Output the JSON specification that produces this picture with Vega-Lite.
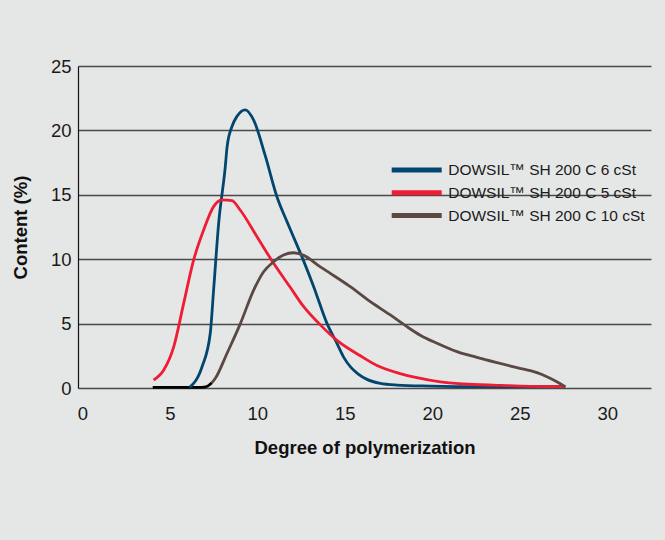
{
  "$schema": "https://vega.github.io/schema/vega-lite/v6.json",
  "width": 573,
  "height": 322,
  "autosize": {"type": "none"},
  "padding": {"left": 78, "top": 66, "right": 14, "bottom": 152},
  "background": "#e5e7e6",
  "config": {
    "view": {"stroke": null},
    "font": "Liberation Sans",
    "axis": {"labelFont": "Liberation Sans", "titleFont": "Liberation Sans"},
    "legend": {"labelFont": "Liberation Sans"}
  },
  "data": {
    "values": [
      {"s": "base", "x": 4.02, "y": 0.05},
      {"s": "base", "x": 6.8, "y": 0.05},
      {"s": "base", "x": 7.15, "y": 0.14},
      {"s": "base", "x": 7.4, "y": 0.4},

      {"s": "DOWSIL™ SH 200 C 6 cSt", "x": 6.13, "y": 0.05},
      {"s": "DOWSIL™ SH 200 C 6 cSt", "x": 6.84, "y": 1.65},
      {"s": "DOWSIL™ SH 200 C 6 cSt", "x": 7.31, "y": 4.25},
      {"s": "DOWSIL™ SH 200 C 6 cSt", "x": 7.5, "y": 7.6},
      {"s": "DOWSIL™ SH 200 C 6 cSt", "x": 7.79, "y": 12.8},
      {"s": "DOWSIL™ SH 200 C 6 cSt", "x": 8.17, "y": 17.2},
      {"s": "DOWSIL™ SH 200 C 6 cSt", "x": 8.27, "y": 18.7},
      {"s": "DOWSIL™ SH 200 C 6 cSt", "x": 8.55, "y": 20.3},
      {"s": "DOWSIL™ SH 200 C 6 cSt", "x": 8.84, "y": 21.1},
      {"s": "DOWSIL™ SH 200 C 6 cSt", "x": 9.31, "y": 21.6},
      {"s": "DOWSIL™ SH 200 C 6 cSt", "x": 9.79, "y": 20.8},
      {"s": "DOWSIL™ SH 200 C 6 cSt", "x": 10.46, "y": 18.0},
      {"s": "DOWSIL™ SH 200 C 6 cSt", "x": 11.12, "y": 14.85},
      {"s": "DOWSIL™ SH 200 C 6 cSt", "x": 11.7, "y": 12.9},
      {"s": "DOWSIL™ SH 200 C 6 cSt", "x": 12.17, "y": 11.4},
      {"s": "DOWSIL™ SH 200 C 6 cSt", "x": 12.65, "y": 9.85},
      {"s": "DOWSIL™ SH 200 C 6 cSt", "x": 13.22, "y": 7.87},
      {"s": "DOWSIL™ SH 200 C 6 cSt", "x": 13.98, "y": 5.02},
      {"s": "DOWSIL™ SH 200 C 6 cSt", "x": 14.55, "y": 3.47},
      {"s": "DOWSIL™ SH 200 C 6 cSt", "x": 14.93, "y": 2.4},
      {"s": "DOWSIL™ SH 200 C 6 cSt", "x": 15.35, "y": 1.6},
      {"s": "DOWSIL™ SH 200 C 6 cSt", "x": 15.75, "y": 1.1},
      {"s": "DOWSIL™ SH 200 C 6 cSt", "x": 16.27, "y": 0.67},
      {"s": "DOWSIL™ SH 200 C 6 cSt", "x": 17.03, "y": 0.36},
      {"s": "DOWSIL™ SH 200 C 6 cSt", "x": 17.98, "y": 0.23},
      {"s": "DOWSIL™ SH 200 C 6 cSt", "x": 19.89, "y": 0.15},
      {"s": "DOWSIL™ SH 200 C 6 cSt", "x": 22.7, "y": 0.1},
      {"s": "DOWSIL™ SH 200 C 6 cSt", "x": 27.6, "y": 0.1},

      {"s": "DOWSIL™ SH 200 C 5 cSt", "x": 4.07, "y": 0.62},
      {"s": "DOWSIL™ SH 200 C 5 cSt", "x": 4.65, "y": 1.4},
      {"s": "DOWSIL™ SH 200 C 5 cSt", "x": 5.22, "y": 3.2},
      {"s": "DOWSIL™ SH 200 C 5 cSt", "x": 5.79, "y": 6.57},
      {"s": "DOWSIL™ SH 200 C 5 cSt", "x": 6.36, "y": 9.94},
      {"s": "DOWSIL™ SH 200 C 5 cSt", "x": 6.93, "y": 12.27},
      {"s": "DOWSIL™ SH 200 C 5 cSt", "x": 7.5, "y": 14.08},
      {"s": "DOWSIL™ SH 200 C 5 cSt", "x": 7.98, "y": 14.6},
      {"s": "DOWSIL™ SH 200 C 5 cSt", "x": 8.55, "y": 14.55},
      {"s": "DOWSIL™ SH 200 C 5 cSt", "x": 9.03, "y": 13.8},
      {"s": "DOWSIL™ SH 200 C 5 cSt", "x": 9.98, "y": 11.75},
      {"s": "DOWSIL™ SH 200 C 5 cSt", "x": 10.93, "y": 9.68},
      {"s": "DOWSIL™ SH 200 C 5 cSt", "x": 11.89, "y": 7.8},
      {"s": "DOWSIL™ SH 200 C 5 cSt", "x": 12.65, "y": 6.31},
      {"s": "DOWSIL™ SH 200 C 5 cSt", "x": 13.6, "y": 4.9},
      {"s": "DOWSIL™ SH 200 C 5 cSt", "x": 14.55, "y": 3.7},
      {"s": "DOWSIL™ SH 200 C 5 cSt", "x": 15.89, "y": 2.5},
      {"s": "DOWSIL™ SH 200 C 5 cSt", "x": 16.84, "y": 1.75},
      {"s": "DOWSIL™ SH 200 C 5 cSt", "x": 17.98, "y": 1.19},
      {"s": "DOWSIL™ SH 200 C 5 cSt", "x": 19.12, "y": 0.8},
      {"s": "DOWSIL™ SH 200 C 5 cSt", "x": 20.46, "y": 0.47},
      {"s": "DOWSIL™ SH 200 C 5 cSt", "x": 21.79, "y": 0.31},
      {"s": "DOWSIL™ SH 200 C 5 cSt", "x": 23.7, "y": 0.21},
      {"s": "DOWSIL™ SH 200 C 5 cSt", "x": 25.6, "y": 0.13},
      {"s": "DOWSIL™ SH 200 C 5 cSt", "x": 27.6, "y": 0.1},

      {"s": "DOWSIL™ SH 200 C 10 cSt", "x": 7.4, "y": 0.4},
      {"s": "DOWSIL™ SH 200 C 10 cSt", "x": 7.6, "y": 0.75},
      {"s": "DOWSIL™ SH 200 C 10 cSt", "x": 8.27, "y": 2.7},
      {"s": "DOWSIL™ SH 200 C 10 cSt", "x": 9.03, "y": 5.0},
      {"s": "DOWSIL™ SH 200 C 10 cSt", "x": 9.79, "y": 7.6},
      {"s": "DOWSIL™ SH 200 C 10 cSt", "x": 10.36, "y": 9.03},
      {"s": "DOWSIL™ SH 200 C 10 cSt", "x": 10.93, "y": 9.8},
      {"s": "DOWSIL™ SH 200 C 10 cSt", "x": 11.5, "y": 10.33},
      {"s": "DOWSIL™ SH 200 C 10 cSt", "x": 12.07, "y": 10.5},
      {"s": "DOWSIL™ SH 200 C 10 cSt", "x": 12.65, "y": 10.3},
      {"s": "DOWSIL™ SH 200 C 10 cSt", "x": 13.6, "y": 9.4},
      {"s": "DOWSIL™ SH 200 C 10 cSt", "x": 14.17, "y": 8.9},
      {"s": "DOWSIL™ SH 200 C 10 cSt", "x": 15.31, "y": 7.87},
      {"s": "DOWSIL™ SH 200 C 10 cSt", "x": 16.46, "y": 6.7},
      {"s": "DOWSIL™ SH 200 C 10 cSt", "x": 17.6, "y": 5.67},
      {"s": "DOWSIL™ SH 200 C 10 cSt", "x": 18.55, "y": 4.76},
      {"s": "DOWSIL™ SH 200 C 10 cSt", "x": 19.31, "y": 4.1},
      {"s": "DOWSIL™ SH 200 C 10 cSt", "x": 20.27, "y": 3.47},
      {"s": "DOWSIL™ SH 200 C 10 cSt", "x": 21.41, "y": 2.82},
      {"s": "DOWSIL™ SH 200 C 10 cSt", "x": 22.55, "y": 2.38},
      {"s": "DOWSIL™ SH 200 C 10 cSt", "x": 23.7, "y": 1.97},
      {"s": "DOWSIL™ SH 200 C 10 cSt", "x": 24.84, "y": 1.58},
      {"s": "DOWSIL™ SH 200 C 10 cSt", "x": 25.98, "y": 1.19},
      {"s": "DOWSIL™ SH 200 C 10 cSt", "x": 26.55, "y": 0.88},
      {"s": "DOWSIL™ SH 200 C 10 cSt", "x": 27.12, "y": 0.49},
      {"s": "DOWSIL™ SH 200 C 10 cSt", "x": 27.6, "y": 0.1}
    ]
  },
  "mark": {"type": "line", "interpolate": "monotone", "strokeWidth": 2.8, "clip": false},
  "encoding": {
    "x": {
      "field": "x", "type": "quantitative",
      "scale": {"domain": [-0.25, 32.5], "nice": false, "zero": false},
      "axis": {
        "values": [0, 5, 10, 15, 20, 25, 30],
        "grid": false, "ticks": false, "domain": false,
        "labelFontSize": 18.5, "labelColor": "#1a1a1a", "labelPadding": 16,
        "title": "Degree of polymerization",
        "titleFontSize": 18.5, "titleFontWeight": "bold", "titleColor": "#111111", "titlePadding": 16
      }
    },
    "y": {
      "field": "y", "type": "quantitative",
      "scale": {"domain": [0, 25], "nice": false},
      "axis": {
        "values": [0, 5, 10, 15, 20, 25],
        "grid": true, "gridColor": "#4a4a4a", "gridWidth": 1.3, "gridOpacity": 1,
        "ticks": false, "domain": true, "domainColor": "#111111", "domainWidth": 1.2,
        "labelFontSize": 18.5, "labelColor": "#1a1a1a", "labelPadding": 7,
        "title": "Content (%)",
        "titleFontSize": 18.5, "titleFontWeight": "bold", "titleColor": "#111111", "titlePadding": 20
      }
    },
    "color": {
      "field": "s", "type": "nominal",
      "scale": {
        "domain": ["DOWSIL™ SH 200 C 6 cSt", "DOWSIL™ SH 200 C 5 cSt", "DOWSIL™ SH 200 C 10 cSt", "base"],
        "range": ["#02466f", "#ee1c35", "#5a4843", "#000000"]
      },
      "legend": {
        "values": ["DOWSIL™ SH 200 C 6 cSt", "DOWSIL™ SH 200 C 5 cSt", "DOWSIL™ SH 200 C 10 cSt"],
        "title": null,
        "orient": "none", "legendX": 311.2, "legendY": 93.5,
        "symbolType": "M-1,0H5.25", "symbolSize": 256, "symbolStrokeWidth": 5, "symbolOpacity": 1,
        "labelFontSize": 15.5, "labelColor": "#1a1a1a", "labelOffset": 38, "rowPadding": 1.8,
        "labelLimit": 300
      }
    }
  }
}
